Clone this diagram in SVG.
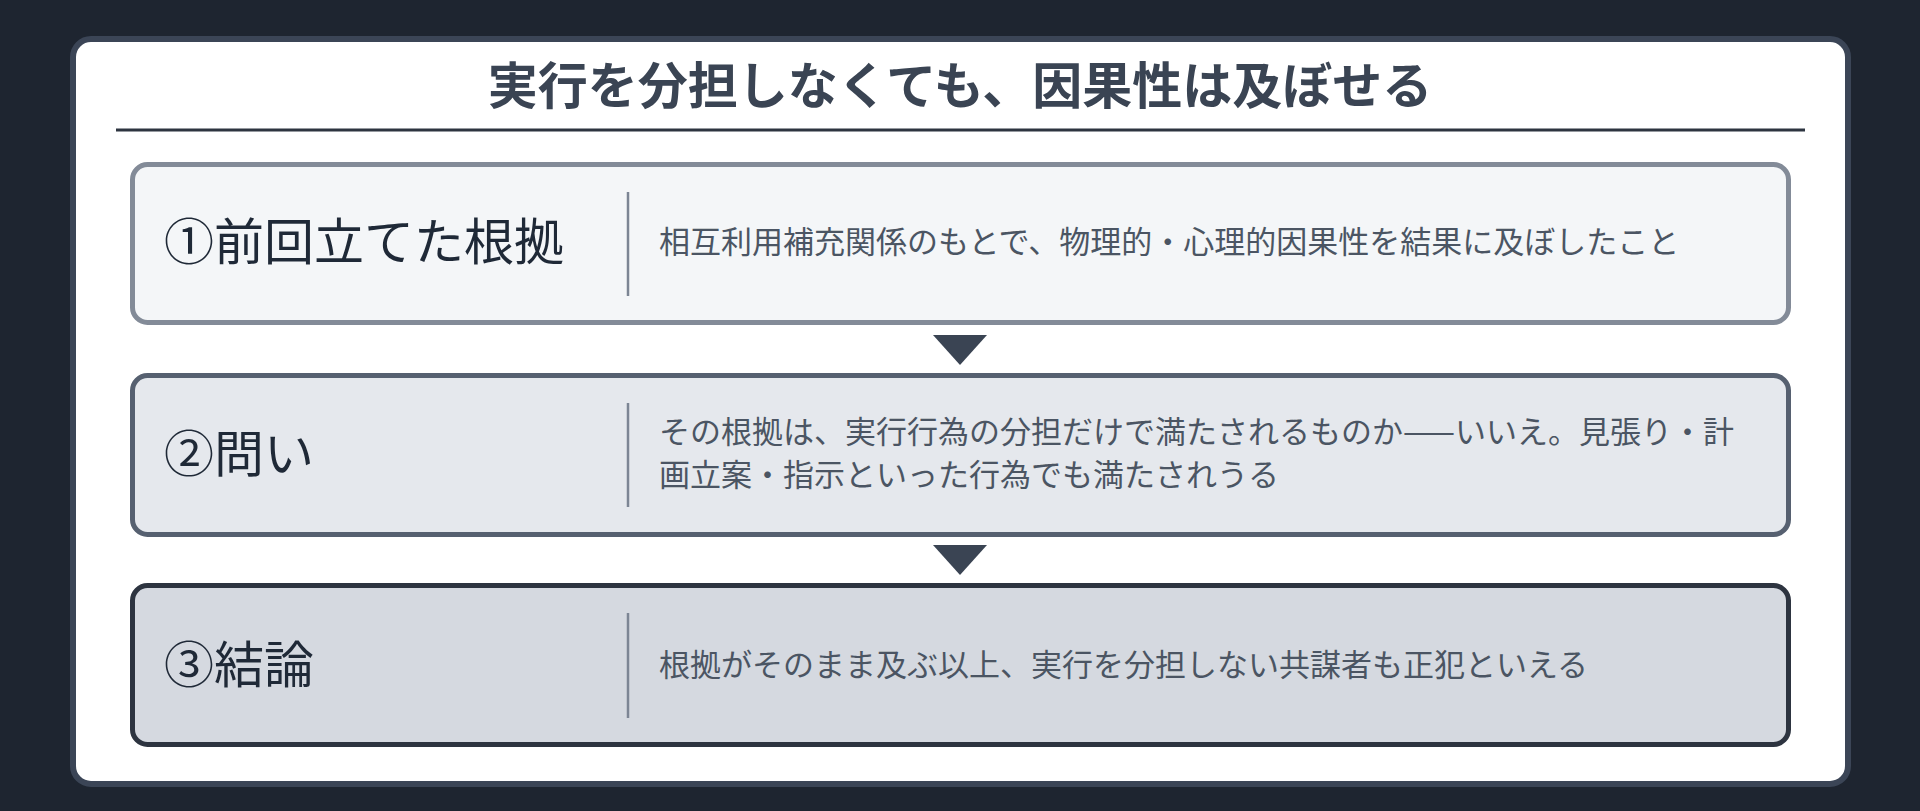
<svg xmlns="http://www.w3.org/2000/svg" width="1920" height="811" viewBox="0 0 1920 811">
<style>
.title{font-family:"Noto Sans CJK JP","Noto Sans",sans-serif;font-weight:700;font-size:50px;fill:#3a4453}
.label{font-family:"Noto Sans CJK JP","Noto Sans",sans-serif;font-weight:400;font-size:50px;fill:#1f2937}
.desc{font-family:"Noto Sans CJK JP","Noto Sans",sans-serif;font-weight:400;font-size:31px;fill:#4b5563}
.div{stroke:#7c8594;stroke-width:2.5}
.arrow{fill:#3a4453}
</style>
<rect x="0" y="0" width="1920" height="811" fill="#1e2530"/>
<rect x="73" y="39" width="1775" height="745" rx="18" fill="#ffffff" stroke="#3b4556" stroke-width="6"/>
<g id="title">
<text class="title" x="960" y="104" text-anchor="middle">実行を分担しなくても、因果性は及ぼせる</text>
<line x1="116" y1="130" x2="1805" y2="130" stroke="#2d3440" stroke-width="3"/>
</g>
<g id="node1">
<rect x="132.5" y="164.5" width="1656" height="158" rx="15" fill="#f4f6f8" stroke="#838b98" stroke-width="5"/>
<text class="label" x="164" y="260">①前回立てた根拠</text>
<line class="div" x1="628" y1="192" x2="628" y2="296"/>
<text class="desc" x="659" y="253">相互利用補充関係のもとで、物理的・心理的因果性を結果に及ぼしたこと</text>
</g>
<g id="node2">
<rect x="132.5" y="375.5" width="1656" height="159" rx="15" fill="#e5e8ed" stroke="#566070" stroke-width="5"/>
<text class="label" x="164" y="472">②問い</text>
<line class="div" x1="628" y1="403" x2="628" y2="507"/>
<text class="desc" x="659" y="443">その根拠は、実行行為の分担だけで満たされるものか——いいえ。見張り・計</text>
<text class="desc" x="659" y="486">画立案・指示といった行為でも満たされうる</text>
</g>
<g id="node3">
<rect x="132.5" y="585.5" width="1656" height="159" rx="15" fill="#d5d9e0" stroke="#2d3440" stroke-width="5"/>
<text class="label" x="164" y="683">③結論</text>
<line class="div" x1="628" y1="613" x2="628" y2="718"/>
<text class="desc" x="659" y="676">根拠がそのまま及ぶ以上、実行を分担しない共謀者も正犯といえる</text>
</g>
<g id="connectors">
<polygon class="arrow" points="933,335 987,335 960,365"/>
<polygon class="arrow" points="933,545 987,545 960,575"/>
</g>
</svg>
